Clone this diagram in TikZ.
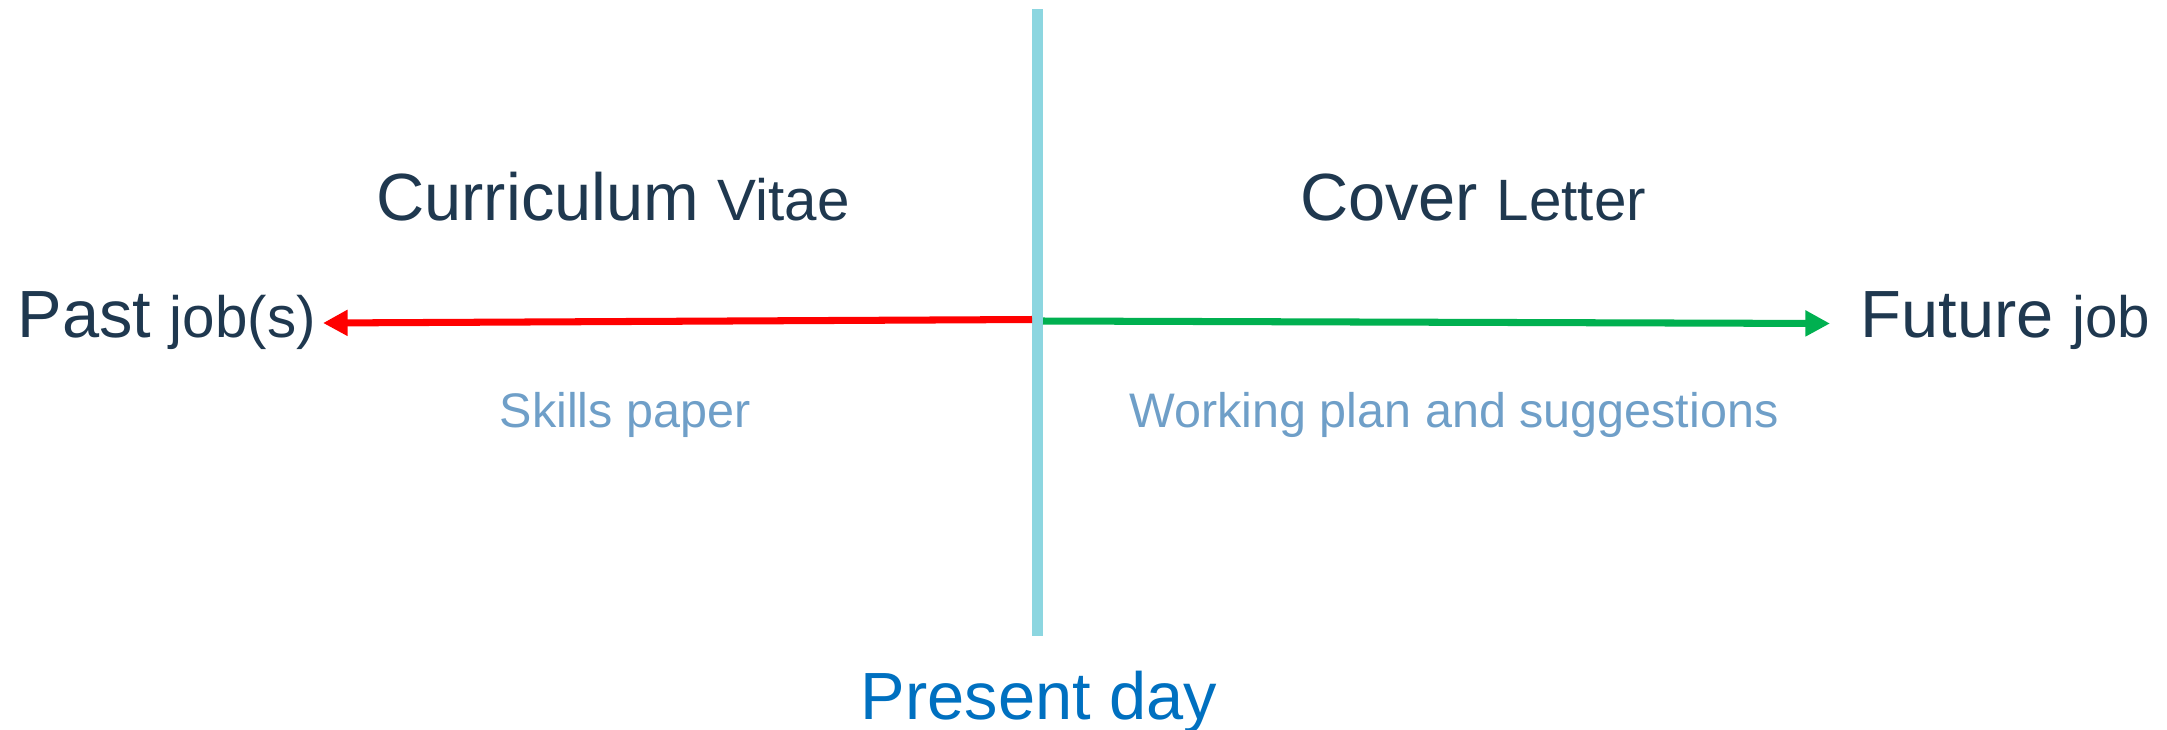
\documentclass[tikz,border=0pt]{standalone}
\usepackage{fontspec}
\setmainfont{Liberation Sans}
\usepackage{tikz}
\usetikzlibrary{arrows.meta}

\definecolor{navy}{RGB}{31,56,79}
\definecolor{paleblue}{RGB}{111,159,200}
\definecolor{nowblue}{RGB}{0,112,192}
\definecolor{nowline}{RGB}{140,214,224}
\definecolor{pastred}{RGB}{255,0,0}
\definecolor{futgreen}{RGB}{0,176,80}

\newcommand{\mainsize}{\fontsize{19}{23}\selectfont}
\newcommand{\subsize}{\fontsize{16.6}{20}\selectfont}
\newcommand{\notesize}{\fontsize{13.8}{16}\selectfont}

\begin{document}
\begin{tikzpicture}[>={Triangle[length=7pt,width=7pt]},
  label/.style={inner sep=0pt, text=navy},
  note/.style={inner sep=0pt, text=paleblue, font=\notesize}]
\useasboundingbox (0,0) rectangle (21.67,7.29);

% present day
\coordinate (top) at (10.375,7.20);
\coordinate (bottom) at (10.375,0.93);
\draw [line width=3.1pt, nowline] (top) -- (bottom);
\node [anchor=base, inner sep=0pt, text=nowblue, font=\mainsize] (present) at (10.39,0.10) {Present day};

% arrows
\coordinate (leftstart) at (10.32,4.095);
\coordinate (pasttip) at (3.23,4.06);
\coordinate (rightstart) at (10.43,4.08);
\coordinate (futuretip) at (18.30,4.055);
\draw [->, line width=2pt, pastred] (leftstart) -- (pasttip);
\draw [->, line width=2pt, futgreen] (rightstart) -- (futuretip);

% ends
\node [label, anchor=base west] (past) at (0.17,3.92) {\mainsize Past \subsize job(s)};
\node [label, anchor=base west] (future) at (18.60,3.92) {\mainsize Future \subsize job};

% documents
\node [label, anchor=base] (cv) at (6.13,5.09) {\mainsize Curriculum \subsize Vitae};
\node [label, anchor=base] (cover) at (14.73,5.09) {\mainsize Cover \subsize Letter};
\node [note, anchor=base] (skills) at (6.25,3.02) {Skills paper};
\node [note, anchor=base] (plan) at (14.54,3.02) {Working plan and suggestions};
\end{tikzpicture}
\end{document}
